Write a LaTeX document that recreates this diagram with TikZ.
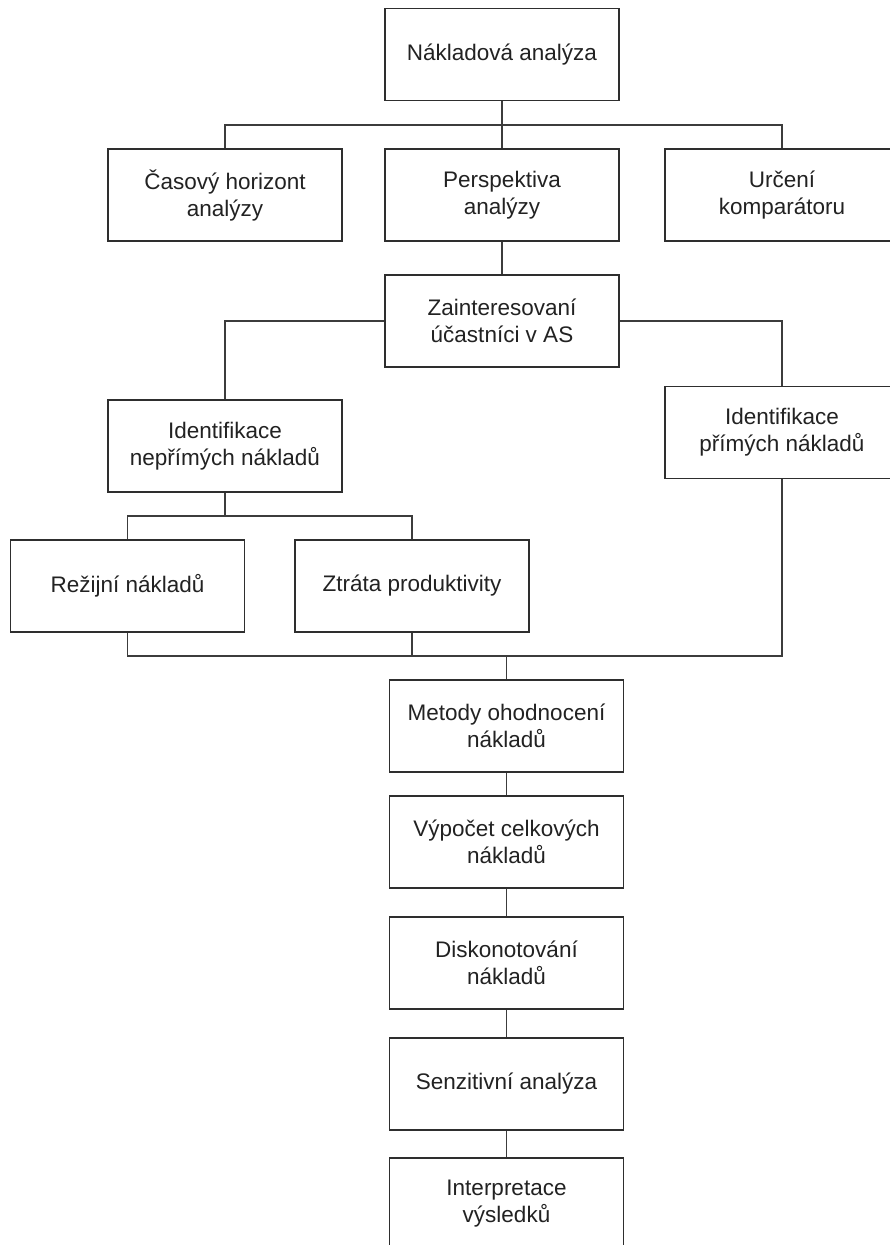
\documentclass[tikz,border=0pt]{standalone}
\usepackage{fontspec}
\setmainfont{Liberation Sans}
\begin{document}
\begin{tikzpicture}[x=1pt,y=-1pt,
  every node/.style={font=\fontsize{22.5}{27}\selectfont},
  stepbox/.style={draw=boxline, line width=1.5pt, fill=white, text=txt,
    minimum width=234pt, minimum height=92pt, align=center, inner sep=2pt},
  link/.style={draw=wire, line width=1.5pt}]
\definecolor{boxline}{HTML}{2E2E2E}
\definecolor{wire}{HTML}{3C3C3C}
\definecolor{txt}{HTML}{222222}
\fill[white] (0,0) rectangle (889,1245);
\useasboundingbox (0,0) rectangle (889,1245);

% top level
\node[stepbox] (top) at (502,54.5) {Nákladová analýza};

% second row
\node[stepbox] (casovy) at (225,195) {Časový horizont\\analýzy};
\node[stepbox] (persp)  at (502,195) {Perspektiva\\analýzy};
\node[stepbox] (urceni) at (782,195) {Určení\\komparátoru};

% stakeholders
\node[stepbox] (zaint) at (502,321) {Zainteresovaní\\účastníci v AS};

% cost identification
\node[stepbox] (neprimych) at (225,446) {Identifikace\\nepřímých nákladů};
\node[stepbox] (primych)   at (782,432.5) {Identifikace\\přímých nákladů};

% indirect cost items
\node[stepbox] (rezijni) at (127.5,586) {Režijní nákladů};
\node[stepbox] (ztrata)  at (412,586) {Ztráta produktivity};

% evaluation chain
\node[stepbox] (metody)  at (506.5,726) {Metody ohodnocení\\nákladů};
\node[stepbox] (vypocet) at (506.5,842) {Výpočet celkových\\nákladů};
\node[stepbox] (disk)    at (506.5,963) {Diskonotování\\nákladů};
\node[stepbox] (senz)    at (506.5,1084) {Senzitivní analýza};
\node[stepbox] (interp)  at (506.5,1204) {Interpretace\\výsledků};

% junction points of the tree buses
\coordinate (bus1) at (502,125);
\coordinate (bus2) at (225,516);
\coordinate (bus3) at (506.5,656);

% connectors
\path[link] (top.south) -- (persp.north);
\path[link] (casovy.north) |- (bus1) -| (urceni.north);
\path[link] (persp.south) -- (zaint.north);
\path[link] (zaint.west) -| (neprimych.north);
\path[link] (zaint.east) -| (primych.north);
\path[link] (neprimych.south) -- (bus2);
\path[link] (rezijni.north) |- (bus2) -| (ztrata.north);
\path[link] (rezijni.south) |- (bus3) -| (primych.south);
\path[link] (ztrata.south) |- (bus3);
\path[link] (bus3) -- (metody.north);
\path[link] (metody.south) -- (vypocet.north);
\path[link] (vypocet.south) -- (disk.north);
\path[link] (disk.south) -- (senz.north);
\path[link] (senz.south) -- (interp.north);
\end{tikzpicture}
\end{document}
